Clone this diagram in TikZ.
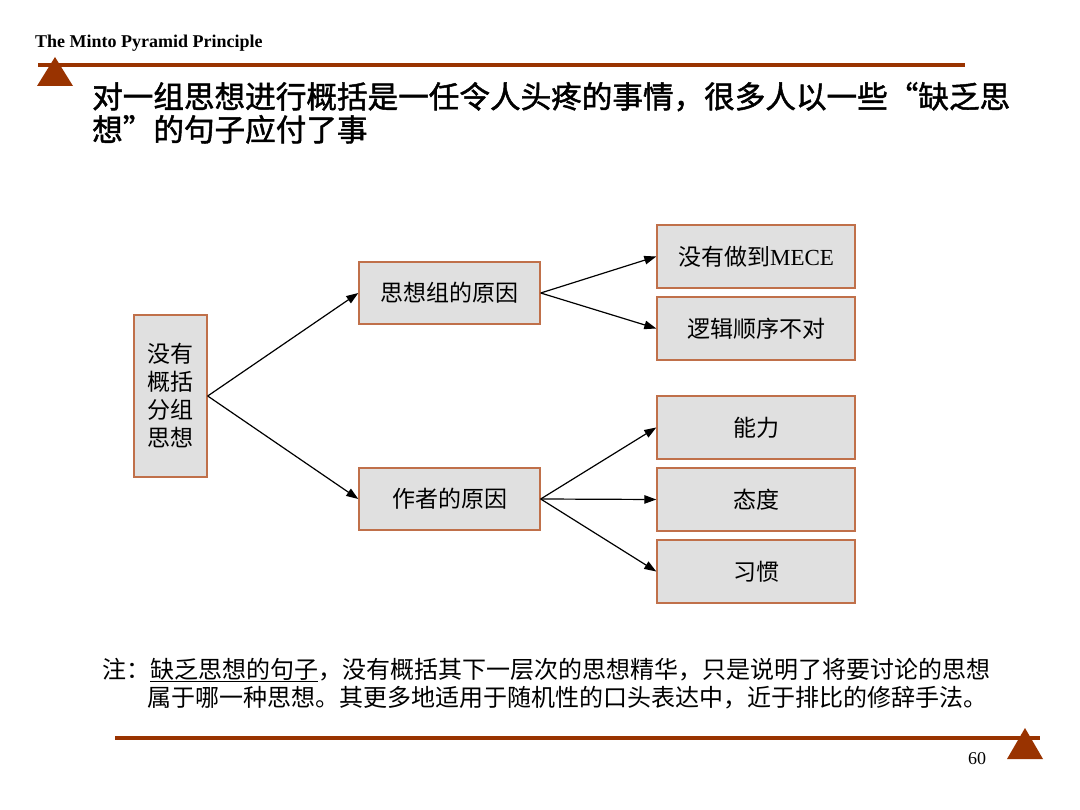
\documentclass[tikz,border=0pt]{standalone}
\usepackage{fontspec}
\setmainfont{Liberation Serif}
\newfontfamily\cjk{Noto Sans CJK SC}
\newfontfamily\cjkt[FakeBold=1.5]{Noto Sans CJK SC}
\usetikzlibrary{arrows.meta}
\definecolor{minto}{HTML}{993300}
\definecolor{boxline}{HTML}{C0704A}
\definecolor{boxfill}{HTML}{E0E0E0}
\tikzset{
  box/.style={draw=boxline, line width=1.4pt, fill=boxfill, inner sep=0pt, align=center,
    font=\cjk\fontsize{23}{28}\selectfont},
  conn/.style={draw=black, line width=1.2pt, -{Triangle[length=12pt,width=8.5pt]}},
  rule/.style={draw=minto, line width=4pt},
  tri/.style={fill=minto, draw=none}
}
\begin{document}
\begin{tikzpicture}[x=1pt,y=-1pt]
\useasboundingbox (0,0) rectangle (1080,810);
% header
\node[anchor=base west, inner sep=0pt, font=\bfseries\fontsize{18}{20}\selectfont] (hdr) at (35,48) {The Minto Pyramid Principle};
\draw[rule] (38,65) -- (965,65);
\fill[tri] (55,57) -- (73,86) -- (37,86) -- cycle;
% title
\node[anchor=base west, inner sep=0pt, font=\cjkt\fontsize{30.6}{33}\selectfont] (t1) at (92,108) {对一组思想进行概括是一任令人头疼的事情，很多人以一些“缺乏思};
\node[anchor=base west, inner sep=0pt, font=\cjkt\fontsize{30.6}{33}\selectfont] (t2) at (92,141) {想”的句子应付了事};
% nodes
\node[box, minimum width=73pt, minimum height=162pt] (root) at (170.5,396) {没有\\概括\\分组\\思想};
\node[box, minimum width=181pt, minimum height=62pt] (g1) at (449.5,293) {思想组的原因};
\node[box, minimum width=181pt, minimum height=62pt] (g2) at (449.5,499) {作者的原因};
\node[box, minimum width=198pt, minimum height=63pt] (m1) at (756,256.5) {没有做到{\rmfamily MECE}};
\node[box, minimum width=198pt, minimum height=63pt] (m2) at (756,328.5) {逻辑顺序不对};
\node[box, minimum width=198pt, minimum height=63pt] (c1) at (756,427.5) {能力};
\node[box, minimum width=198pt, minimum height=63pt] (c2) at (756,499.5) {态度};
\node[box, minimum width=198pt, minimum height=63pt] (c3) at (756,571.5) {习惯};
% connectors
\draw[conn] (root.east) -- (g1.west);
\draw[conn] (root.east) -- (g2.west);
\draw[conn] (g1.east) -- (m1.west);
\draw[conn] (g1.east) -- (m2.west);
\draw[conn] (g2.east) -- (c1.west);
\draw[conn] (g2.east) -- (c2.west);
\draw[conn] (g2.east) -- (c3.west);
% note
\node[anchor=base west, inner sep=0pt, font=\cjk\fontsize{24}{28}\selectfont] (n1) at (102,678) {注：\underline{缺乏思想的句子}，没有概括其下一层次的思想精华，只是说明了将要讨论的思想};
\node[anchor=base west, inner sep=0pt, font=\cjk\fontsize{24}{28}\selectfont] (n2) at (147,706) {属于哪一种思想。其更多地适用于随机性的口头表达中，近于排比的修辞手法。};
% footer
\draw[rule] (115,738) -- (1040,738);
\fill[tri] (1025,728) -- (1043,759) -- (1007,759) -- cycle;
\node[anchor=base, inner sep=0pt, font=\fontsize{18}{20}\selectfont] (pg) at (977,764) {60};
\end{tikzpicture}
\end{document}
